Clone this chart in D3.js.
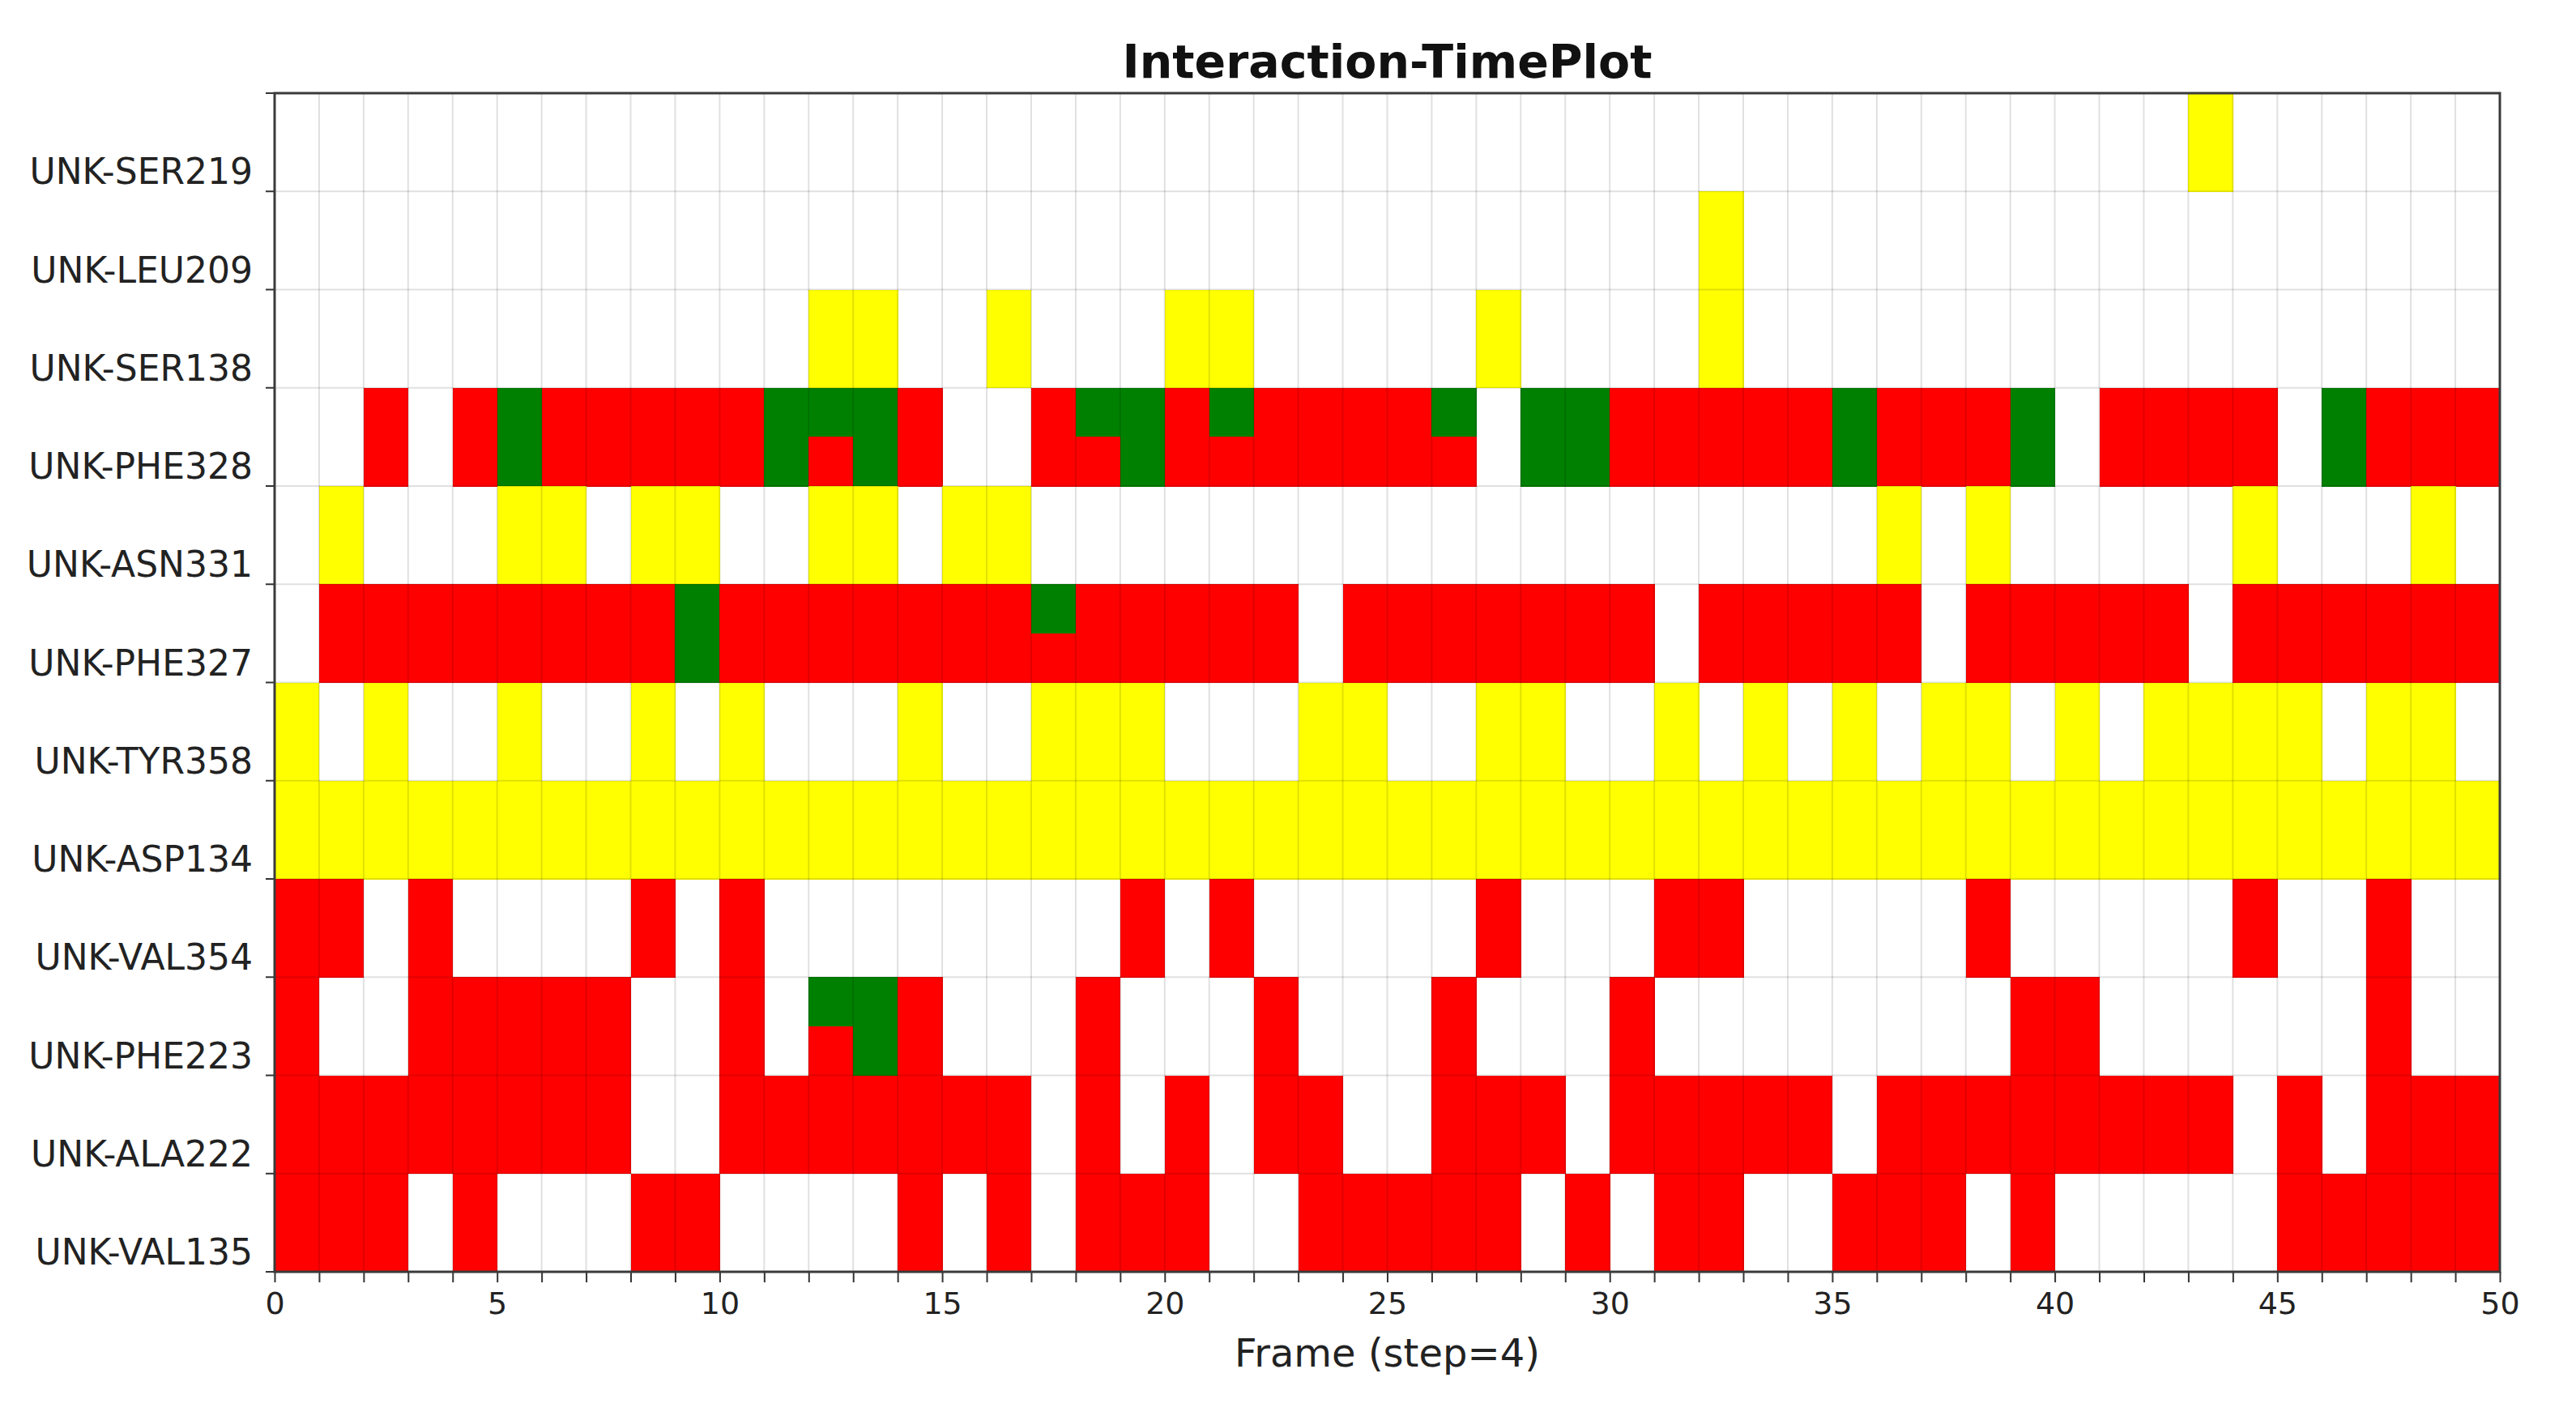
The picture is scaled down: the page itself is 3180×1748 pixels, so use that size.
<!DOCTYPE html>
<html>
<head>
<meta charset="utf-8">
<script src="https://cdn.jsdelivr.net/npm/d3@7"></script>
<style>
  html, body { margin: 0; padding: 0; background: #ffffff; }
  svg { display: block; }
  text { font-family: "DejaVu Sans", "Liberation Sans", sans-serif; }
</style>
</head>
<body>
<script>
// ---------------- data ----------------
const chartTitle = "Interaction-TimePlot";
const xLabel = "Frame (step=4)";
const residues = [
  "UNK-SER219", "UNK-LEU209", "UNK-SER138", "UNK-PHE328",
  "UNK-ASN331", "UNK-PHE327", "UNK-TYR358", "UNK-ASP134",
  "UNK-VAL354", "UNK-PHE223", "UNK-ALA222", "UNK-VAL135"
];
const frameCount = 50;
const xTickValues = [0, 5, 10, 15, 20, 25, 30, 35, 40, 45, 50];
// one string per residue, one character per frame:
// '.' none, 'R' hydrophobic (red), 'G' pi-stacking (green), 'Y' H-bond (yellow),
// 'g' split cell: green upper half, red lower half
const contacts = [
  ".........." + ".........." + ".........." + ".........." + "...Y......", // SER219
  ".........." + ".........." + ".........." + "..Y......." + "..........", // LEU209
  ".........." + "..YY..Y..." + "YY.....Y.." + "..Y......." + "..........", // SER138
  "..R.RGRRRR" + "RGgGR..RgG" + "RgRRRRg.GG" + "RRRRRGRRRG" + ".RRRR.GRRR", // PHE328
  ".Y...YY.YY" + "..YY.YY..." + ".........." + "......Y.Y." + "....Y...Y.", // ASN331
  ".RRRRRRRRG" + "RRRRRRRgRR" + "RRR.RRRRRR" + "R.RRRRR.RR" + "RRR.RRRRRR", // PHE327
  "Y.Y..Y..Y." + "Y...Y..YYY" + "...YY..YY." + ".Y.Y.Y.YY." + "Y.YYYY.YY.", // TYR358
  "YYYYYYYYYY" + "YYYYYYYYYY" + "YYYYYYYYYY" + "YYYYYYYYYY" + "YYYYYYYYYY", // ASP134
  "RR.R....R." + "R........R" + ".R.....R.." + ".RR.....R." + "....R..R..", // VAL354
  "R..RRRRR.." + "R.gGR...R." + "..R...R..." + "R........R" + "R......R..", // PHE223
  "RRRRRRRR.." + "RRRRRRR.R." + "R.RR..RRR." + "RRRRR.RRRR" + "RRRR.R.RRR", // ALA222
  "RRR.R...RR" + "....R.R.RR" + "R..RRRRR.R" + ".RR..RRR.R" + ".....RRRRR"  // VAL135
];
const codeColors = { R: "#ff0000", G: "#008000", Y: "#ffff00" };

// ---------------- layout ----------------
const W = 3180, H = 1748;
const plot = { left: 339, right: 3086, top: 115, bottom: 1570 };

const svg = d3.select("body").append("svg")
  .attr("width", W).attr("height", H)
  .attr("viewBox", `0 0 ${W} ${H}`);
svg.append("rect").attr("width", W).attr("height", H).attr("fill", "#ffffff");

const x = d3.scaleLinear().domain([0, frameCount]).range([plot.left, plot.right]);
const y = d3.scaleBand().domain(residues).range([plot.top, plot.bottom]).padding(0);
const bw = y.bandwidth();

// build cell list (upper/lower halves)
const cells = [];
residues.forEach((res, ri) => {
  const s = contacts[ri];
  for (let f = 0; f < frameCount; f++) {
    const c = s[f];
    if (c === ".") continue;
    if (c === "g") {
      cells.push({ res, f, half: 0, color: codeColors.G });
      cells.push({ res, f, half: 1, color: codeColors.R });
    } else {
      cells.push({ res, f, half: 0, color: codeColors[c] });
      cells.push({ res, f, half: 1, color: codeColors[c] });
    }
  }
});

svg.append("g").attr("shape-rendering", "crispEdges")
  .selectAll("rect").data(cells).join("rect")
  .attr("x", d => x(d.f))
  .attr("width", d => x(d.f + 1) - x(d.f) + 0.5)
  .attr("y", d => y(d.res) + d.half * bw / 2)
  .attr("height", bw / 2 + 0.5)
  .attr("fill", d => d.color);

// grid overlay
const grid = svg.append("g").attr("stroke", "rgba(0,0,0,0.12)").attr("stroke-width", 2);
grid.selectAll("line.v").data(d3.range(1, frameCount)).join("line")
  .attr("class", "v")
  .attr("x1", d => x(d)).attr("x2", d => x(d))
  .attr("y1", plot.top).attr("y2", plot.bottom);
grid.selectAll("line.h").data(residues.slice(1)).join("line")
  .attr("class", "h")
  .attr("x1", plot.left).attr("x2", plot.right)
  .attr("y1", d => y(d)).attr("y2", d => y(d));

// x axis
const xAxis = d3.axisBottom(x)
  .tickValues(d3.range(0, frameCount + 1))
  .tickSize(13)
  .tickPadding(12)
  .tickFormat(d => (xTickValues.includes(d) ? d : ""));
const gx = svg.append("g").attr("transform", `translate(0,${plot.bottom})`).call(xAxis);
gx.select(".domain").remove();
gx.selectAll(".tick line").attr("stroke", "#333").attr("stroke-width", 2);
gx.selectAll(".tick text")
  .attr("font-family", "DejaVu Sans")
  .attr("font-size", 38)
  .attr("fill", "#222");

// y axis ticks at row boundaries
const boundaries = residues.map(r => y(r) + bw).concat([plot.top]);
svg.append("g").selectAll("line").data(boundaries).join("line")
  .attr("x1", plot.left - 11).attr("x2", plot.left)
  .attr("y1", d => d).attr("y2", d => d)
  .attr("stroke", "#333").attr("stroke-width", 2);

// y labels (sit just above each row's lower tick)
svg.append("g").selectAll("text").data(residues).join("text")
  .attr("x", 312)
  .attr("y", d => y(d) + bw - 9)
  .attr("text-anchor", "end")
  .attr("font-size", 44)
  .attr("fill", "#222")
  .text(d => d);

// frame
svg.append("rect")
  .attr("x", plot.left).attr("y", plot.top)
  .attr("width", plot.right - plot.left).attr("height", plot.bottom - plot.top)
  .attr("fill", "none").attr("stroke", "#3a3a3a").attr("stroke-width", 3);

// title
svg.append("text")
  .attr("x", (plot.left + plot.right) / 2).attr("y", 96)
  .attr("text-anchor", "middle")
  .attr("font-size", 57).attr("font-weight", "bold")
  .attr("fill", "#111")
  .text(chartTitle);

// x label
svg.append("text")
  .attr("x", (plot.left + plot.right) / 2).attr("y", 1687)
  .attr("text-anchor", "middle")
  .attr("font-size", 48)
  .attr("fill", "#222")
  .text(xLabel);
</script>
</body>
</html>
